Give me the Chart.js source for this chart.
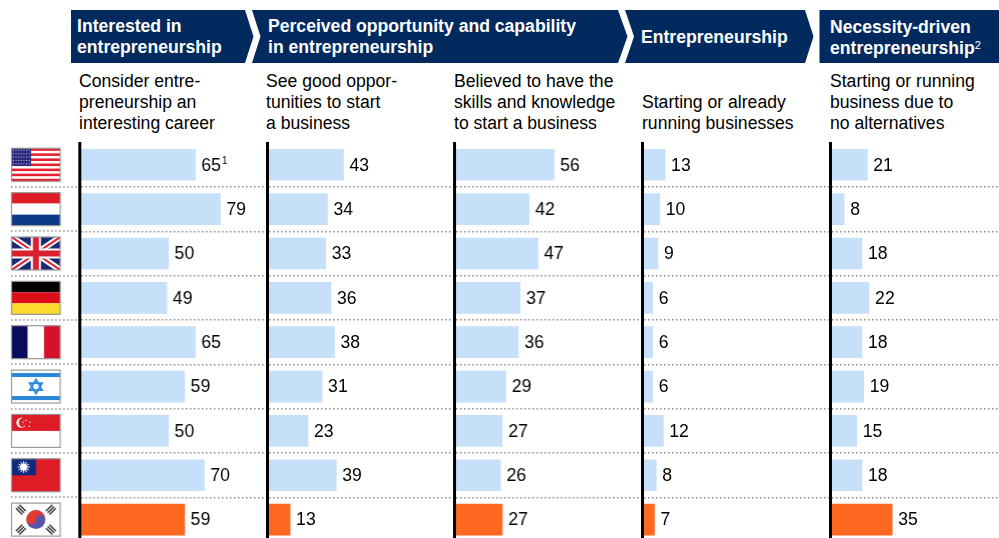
<!DOCTYPE html>
<html>
<head>
<meta charset="utf-8">
<script src="https://cdn.jsdelivr.net/npm/chart.js@4/dist/chart.umd.min.js"></script>
<style>
html,body{margin:0;padding:0;background:#fff;overflow:hidden;width:999px;height:538px}
body{position:relative;font-family:"Liberation Sans",Arial,sans-serif;color:#000}
.box{position:absolute;overflow:hidden}
canvas{display:block}
.t{position:absolute;white-space:nowrap}
.h{color:#fff;font-weight:bold;font-size:17.6px;line-height:21px}
.s{font-size:17.6px;line-height:21px}
sup{font-size:11px;line-height:0;vertical-align:5px;font-weight:normal}
</style>
</head>
<body>
<svg width="999" height="70" style="position:absolute;left:0;top:0">
<polygon fill="#032a5e" points="71,10 245,10 253.5,36.5 245,63 71,63"/>
<polygon fill="#032a5e" points="252,10 618,10 627.5,36.5 618,63 252,63 260.5,36.5"/>
<polygon fill="#032a5e" points="625,10 805,10 813.5,36.5 805,63 625,63 634,36.5"/>
<polygon fill="#032a5e" points="819.5,10 999,10 999,63 819.5,63"/>
</svg>
<div class="t h" style="left:77px;top:16px">Interested in<br>entrepreneurship</div>
<div class="t h" style="left:268px;top:16px">Perceived opportunity and capability<br>in entrepreneurship</div>
<div class="t h" style="left:641px;top:27px">Entrepreneurship</div>
<div class="t h" style="left:830px;top:17px">Necessity-driven<br>entrepreneurship<sup>2</sup></div>
<div class="t s" style="left:79px;top:71px">Consider entre-<br>preneurship an<br>interesting career</div>
<div class="t s" style="left:266px;top:71px">See good oppor-<br>tunities to start<br>a business</div>
<div class="t s" style="left:454px;top:71px">Believed to have the<br>skills and knowledge<br>to start a business</div>
<div class="t s" style="left:642px;top:92px">Starting or already<br>running businesses</div>
<div class="t s" style="left:830px;top:71px">Starting or running<br>business due to<br>no alternatives</div>

<div class="box" style="left:0;top:142px;width:999px;height:396px" id="plots"></div>

<script>
const countries = ['USA','Netherlands','UK','Germany','France','Israel','Singapore','Taiwan','Korea'];
const interested = [65,79,50,49,65,59,50,70,59];
const opportunity = [43,34,33,36,38,31,23,39,13];
const skills = [56,42,47,37,36,29,27,26,27];
const running = [13,10,9,6,6,6,12,8,7];
const necessity = [21,8,18,22,18,19,15,18,35];
const interestedNotes = ['1','','','','','','','',''];
const highlighted = 'Korea';

const LIGHT = '#c6e0f9', ORANGE = '#ff6820', DOT = '#8c8c8c';
const AXIS_X = [79, 266.7, 454.2, 641.8, 829.7];
const AREA_W = 187.7, GUTTER = 4, X_MAX = 105.6, PITCH_H = 400;

function rect(c,col,x,y,w,h){c.fillStyle=col;c.fillRect(x,y,w,h);}
const painters = {
  USA(c,x,y,w,h){
    rect(c,'#fff',x,y,w,h);
    for(let i=0;i<13;i+=2) rect(c,'#e2202e',x,y+i*h/13,w,h/13);
    rect(c,'#2b2a7c',x,y,w*0.4,h*7/13);
    c.fillStyle='#c4c4e6';
    for(let r=0;r<5;r++)for(let q=0;q<7;q++)c.fillRect(x+1.5+q*2.6,y+1.5+r*3.4,1,1);
  },
  Netherlands(c,x,y,w,h){rect(c,'#dd1c26',x,y,w,h/3);rect(c,'#fff',x,y+h/3,w,h/3);rect(c,'#0c3a86',x,y+2*h/3,w,h/3);},
  UK(c,x,y,w,h){
    rect(c,'#1b2a70',x,y,w,h);
    c.save();c.beginPath();c.rect(x,y,w,h);c.clip();
    const diag=(col,lw)=>{c.strokeStyle=col;c.lineWidth=lw;c.beginPath();c.moveTo(x,y);c.lineTo(x+w,y+h);c.moveTo(x+w,y);c.lineTo(x,y+h);c.stroke();};
    diag('#fff',6);diag('#d8202e',2);
    rect(c,'#fff',x+w/2-5,y,10,h);rect(c,'#fff',x,y+h/2-5,w,10);
    rect(c,'#d8202e',x+w/2-3,y,6,h);rect(c,'#d8202e',x,y+h/2-3,w,6);
    c.restore();
  },
  Germany(c,x,y,w,h){rect(c,'#000',x,y,w,h/3);rect(c,'#de0b1a',x,y+h/3,w,h/3);rect(c,'#fcd92d',x,y+2*h/3,w,h/3);},
  France(c,x,y,w,h){rect(c,'#0a0c5e',x,y,w/3,h);rect(c,'#fff',x+w/3,y,w/3,h);rect(c,'#d8112a',x+2*w/3,y,w/3,h);},
  Israel(c,x,y,w,h){
    rect(c,'#fff',x,y,w,h);
    rect(c,'#2a86d8',x,y+3,w,4);rect(c,'#2a86d8',x,y+h-7,w,4);
    const cx=x+w/2,cy=y+h/2,r=7;
    c.strokeStyle='#2a86d8';c.lineWidth=1.8;
    [-1,1].forEach(s=>{c.beginPath();c.moveTo(cx,cy+s*r);c.lineTo(cx+r*.87,cy-s*r/2);c.lineTo(cx-r*.87,cy-s*r/2);c.closePath();c.stroke();});
  },
  Singapore(c,x,y,w,h){
    rect(c,'#fff',x,y,w,h);rect(c,'#dd1c26',x,y,w,h/2);
    const cx=x+10,cy=y+h/4;
    c.fillStyle='#fff';c.beginPath();c.arc(cx,cy,5.2,0,7);c.fill();
    c.fillStyle='#dd1c26';c.beginPath();c.arc(cx+2,cy,4.8,0,7);c.fill();
    c.fillStyle='#fff';[[4,-3],[8,-1],[7,3],[2,3],[1,-1]].forEach(p=>c.fillRect(cx+p[0],cy+p[1],1.2,1.2));
  },
  Taiwan(c,x,y,w,h){
    rect(c,'#dd1c26',x,y,w,h);rect(c,'#0e2a7c',x,y,w/2,h/2);
    const cx=x+w/4,cy=y+h/4;
    c.strokeStyle='#fff';c.lineWidth=1;
    for(let i=0;i<12;i++){const a=i*Math.PI/6;c.beginPath();c.moveTo(cx,cy);c.lineTo(cx+Math.cos(a)*6,cy+Math.sin(a)*6);c.stroke();}
    c.fillStyle='#fff';c.beginPath();c.arc(cx,cy,3.6,0,7);c.fill();
  },
  Korea(c,x,y,w,h){
    rect(c,'#fff',x,y,w,h);
    const cx=x+w/2,cy=y+h/2,r=9.5;
    c.fillStyle='#5a55a8';c.beginPath();c.arc(cx,cy,r,0,7);c.fill();
    c.fillStyle='#e63a2e';c.beginPath();c.arc(cx,cy,r,Math.PI,0);c.arc(cx+r/2,cy,r/2,0,Math.PI,true);c.arc(cx-r/2,cy,r/2,0,Math.PI);c.fill();
    c.strokeStyle='#333';c.lineWidth=1.4;
    [[-15,-10,1],[15,-10,-1],[-15,10,-1],[15,10,1]].forEach(t=>{
      c.save();c.translate(cx+t[0],cy+t[1]);c.rotate(t[2]*Math.PI/4);
      for(let i=-1;i<=1;i++){c.beginPath();c.moveTo(-4.5,i*2.4);c.lineTo(4.5,i*2.4);c.stroke();}
      c.restore();
    });
  }
};

const valueLabels = {
  id:'valueLabels',
  afterDatasetsDraw(chart,_,opts){
    const c=chart.ctx, meta=chart.getDatasetMeta(0), data=chart.data.datasets[0].data;
    c.save();c.fillStyle='#000';c.textBaseline='middle';c.textAlign='left';
    meta.data.forEach((bar,i)=>{
      c.font='17.6px "Liberation Sans", Arial, sans-serif';
      const s=String(data[i]), x=bar.x+6;
      c.fillText(s,x,bar.y+1);
      const n=opts.notes&&opts.notes[i];
      if(n){const w=c.measureText(s).width;c.font='10px "Liberation Sans", Arial, sans-serif';c.fillText(n,x+w+1,bar.y-4);}
    });
    c.restore();
  }
};
const flags = {
  id:'flags',
  afterDraw(chart){
    const c=chart.ctx,ys=chart.scales.y;
    c.save();c.strokeStyle=DOT;c.lineWidth=1.5;c.setLineDash([1.5,2.5]);
    for(let i=1;i<countries.length;i++){
      const y=Math.round((ys.getPixelForValue(i-1)+ys.getPixelForValue(i))/2);
      c.beginPath();c.moveTo(11,y);c.lineTo(AXIS_X[0],y);c.stroke();
    }
    c.restore();
    countries.forEach((name,i)=>{
      const cy=ys.getPixelForValue(i),x=11.5,w=48.5,h=33,y=cy-h/2;
      c.save();painters[name](c,x,y,w,h);
      c.strokeStyle='#999';c.lineWidth=1.2;c.strokeRect(x,y,w,h);c.restore();
    });
  }
};

function makeChart(values,i,notes){
  const first=i===0, gutter=first?AXIS_X[0]:GUTTER;
  const host=document.createElement('div');
  host.style.cssText='position:absolute;top:0;left:'+(AXIS_X[i]-gutter)+'px;width:'+(gutter+AREA_W)+'px;height:'+PITCH_H+'px';
  const cv=document.createElement('canvas');
  host.appendChild(cv);document.getElementById('plots').appendChild(host);
  new Chart(cv,{
    type:'bar',
    data:{labels:countries,datasets:[{
      data:values,
      backgroundColor:countries.map(n=>n===highlighted?ORANGE:LIGHT),
      barThickness:31,borderWidth:0
    }]},
    options:{
      indexAxis:'y',responsive:true,maintainAspectRatio:false,animation:false,
      layout:{padding:{left:0,right:0,top:0.6,bottom:0.2}},
      plugins:{legend:{display:false},tooltip:{enabled:false},valueLabels:{notes}},
      scales:{
        x:{display:false,min:0,max:X_MAX},
        y:{
          afterFit(s){s.width=gutter;},
          ticks:{display:false},
          border:{display:true,color:'#000',width:3,dash:[1.5,2.5],z:1},
          grid:{
            offset:true,drawOnChartArea:true,drawTicks:false,
            lineWidth:1.5,
            color:ctx=>ctx.index===0?'rgba(0,0,0,0)':DOT
          }
        }
      }
    },
    plugins:first?[valueLabels,flags]:[valueLabels]
  });
}
makeChart(interested,0,interestedNotes);
makeChart(opportunity,1);
makeChart(skills,2);
makeChart(running,3);
makeChart(necessity,4);
</script>
</body>
</html>
